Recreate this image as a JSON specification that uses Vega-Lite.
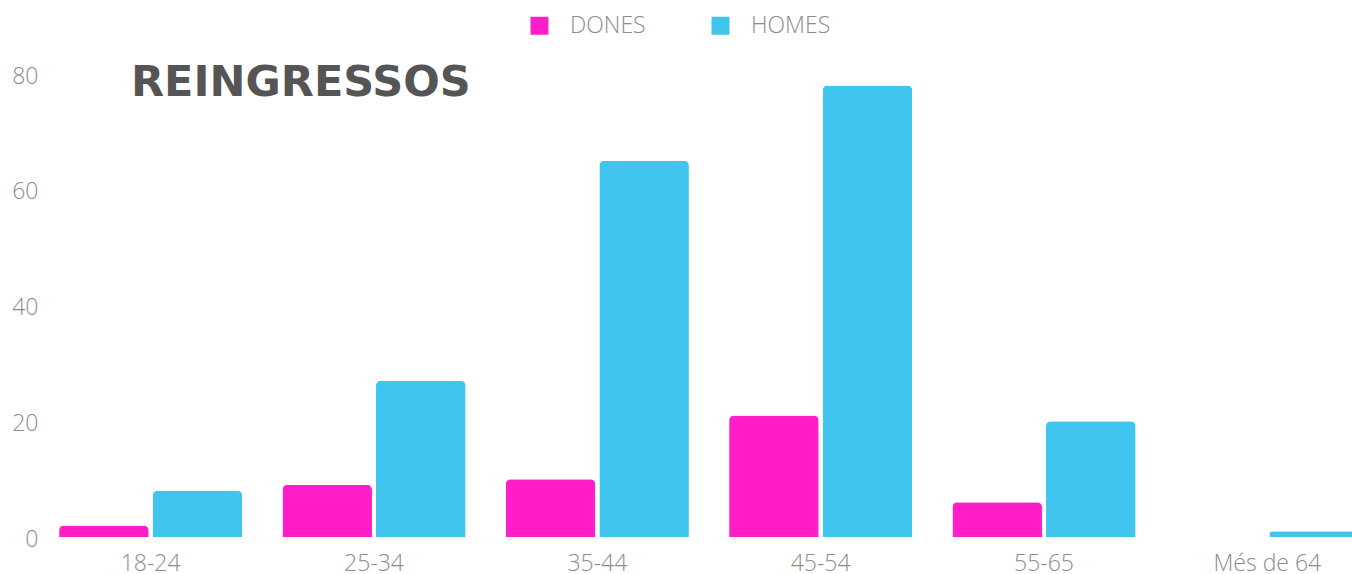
{
  "$schema": "https://vega.github.io/schema/vega-lite/v6.json",
  "width": 1340,
  "height": 463,
  "autosize": {"type": "none"},
  "padding": {"left": 39, "top": 74, "right": -27, "bottom": 37},
  "background": "white",
  "title": {
    "text": "REINGRESSOS",
    "anchor": "start",
    "frame": "group",
    "font": "DejaVu Sans",
    "fontWeight": "bold",
    "fontSize": 43,
    "color": "#555555",
    "offset": -91,
    "dx": 92
  },
  "data": {
    "values": [
      {"edat": "18-24", "sexe": "DONES", "valor": 2},
      {"edat": "18-24", "sexe": "HOMES", "valor": 8},
      {"edat": "25-34", "sexe": "DONES", "valor": 9},
      {"edat": "25-34", "sexe": "HOMES", "valor": 27},
      {"edat": "35-44", "sexe": "DONES", "valor": 10},
      {"edat": "35-44", "sexe": "HOMES", "valor": 65},
      {"edat": "45-54", "sexe": "DONES", "valor": 21},
      {"edat": "45-54", "sexe": "HOMES", "valor": 78},
      {"edat": "55-65", "sexe": "DONES", "valor": 6},
      {"edat": "55-65", "sexe": "HOMES", "valor": 20},
      {"edat": "Més de 64", "sexe": "DONES", "valor": 0},
      {"edat": "Més de 64", "sexe": "HOMES", "valor": 1}
    ]
  },
  "mark": {"type": "bar", "cornerRadiusTopLeft": 5, "cornerRadiusTopRight": 5},
  "encoding": {
    "x": {
      "field": "edat",
      "type": "nominal",
      "sort": null,
      "scale": {"paddingInner": 0.18, "paddingOuter": 0.09},
      "axis": {
        "title": null,
        "labelAngle": 0,
        "ticks": false,
        "domain": false,
        "grid": false,
        "labelPadding": 15,
        "labelFont": "Open Sans",
        "labelFontWeight": 300,
        "labelFontSize": 23,
        "labelColor": "#8c8c8c"
      }
    },
    "xOffset": {
      "field": "sexe",
      "type": "nominal",
      "scale": {"paddingInner": 0.043, "paddingOuter": 0}
    },
    "y": {
      "field": "valor",
      "type": "quantitative",
      "scale": {"domain": [0, 80], "nice": false},
      "axis": {
        "title": null,
        "values": [0, 20, 40, 60, 80],
        "ticks": false,
        "domain": false,
        "grid": false,
        "labelPadding": 1,
        "labelOffset": 2,
        "labelFont": "Open Sans",
        "labelFontWeight": 300,
        "labelFontSize": 23,
        "labelColor": "#8c8c8c"
      }
    },
    "color": {
      "field": "sexe",
      "type": "nominal",
      "scale": {"domain": ["DONES", "HOMES"], "range": ["#ff1ec8", "#40c6ee"]},
      "legend": {
        "title": null,
        "orient": "none",
        "direction": "horizontal",
        "legendX": 489,
        "legendY": -60,
        "padding": 0,
        "symbolType": "square",
        "symbolSize": 324,
        "symbolStrokeWidth": 0,
        "labelOffset": 19,
        "columnPadding": 63,
        "labelFont": "Open Sans",
        "labelFontWeight": 300,
        "labelFontSize": 23,
        "labelColor": "#8c8c8c"
      }
    }
  },
  "config": {"view": {"stroke": null}}
}
